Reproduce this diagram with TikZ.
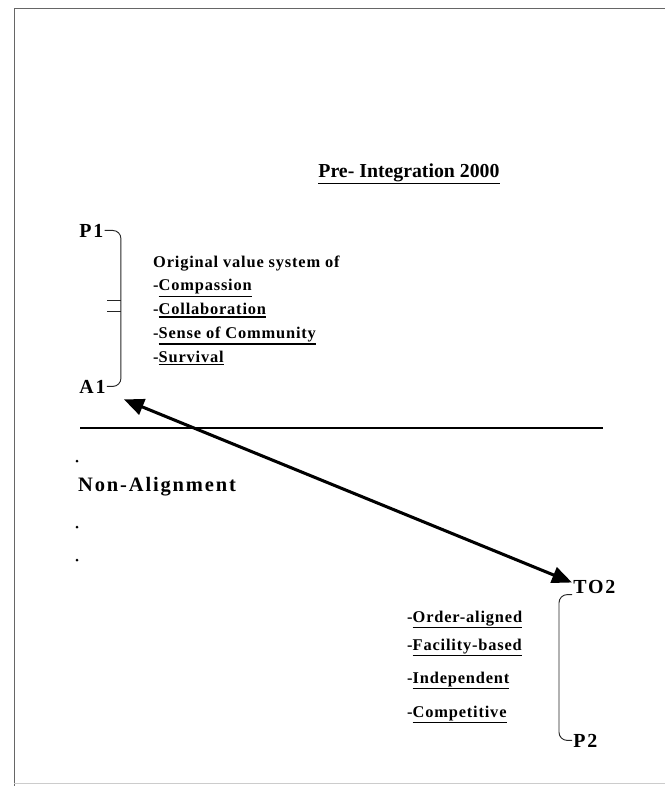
\documentclass[tikz,border=0pt]{standalone}
\usepackage{fontspec}
\setmainfont{Liberation Serif}
\newfontfamily\spacedfont[LetterSpace=5]{Liberation Serif}
\newfontfamily\widefont[LetterSpace=9]{Liberation Serif}
\usetikzlibrary{arrows.meta, positioning, calc}
\newcommand{\ruled}[1]{\leavevmode\vtop{\hbox{#1}\kern1.3pt\hrule height 1.1pt}}
\tikzset{
  heading/.style={font=\fontsize{16.9}{19}\selectfont\bfseries, inner sep=1pt},
  endlabel/.style={font=\fontsize{17}{19}\selectfont\widefont\bfseries, inner sep=1pt},
  item/.style={font=\fontsize{14}{16}\selectfont\spacedfont\bfseries, inner sep=0pt, anchor=base west},
  zone/.style={font=\fontsize{17.5}{19}\selectfont\widefont\bfseries, inner sep=0pt, anchor=base west},
  bracket/.style={draw=black!85, line width=0.8pt, rounded corners=7pt},
  divider/.style={draw=black, line width=2pt},
  pagefrm/.style={draw=black!60, line width=0.7pt},
  shiftarrow/.style={{Triangle[length=17pt, width=14pt]}-{Triangle[length=17pt, width=14pt]}, line width=2.6pt},
}
\begin{document}
\begin{tikzpicture}[x=0.03cm, y=-0.03cm]
  \useasboundingbox (0,0) rectangle (665,786);
  % scanned page edge
  \draw[pagefrm] (14,786) -- (14,8) -- (665,8);
  \draw[draw=black!20, line width=0.6pt] (14,783) -- (665,783);

  \node[heading, anchor=base] (title) at (409,177) {\ruled{Pre- Integration 2000}};

  % upper block
  \node[endlabel, anchor=base west] (P1) at (78,237) {P1};
  \node[endlabel, anchor=base west] (A1) at (78,393) {A1};
  \draw[bracket] (P1.east) -| ([shift={(14,0)}]A1.east) -- (A1.east);
  \draw[bracket] (107,300) -- (121,300);
  \draw[bracket] (107,311) -- (121,311);

  \node[item] (val0) at (153,267) {Original value system of};
  \foreach \txt [count=\i] in {{-\ruled{Compassion}}, {-\ruled{Collaboration}},
      {-\ruled{Sense of Community}}, {-\ruled{Survival}}}
    \node[item] (val\i) at (153,267+23.8*\i) {\txt};

  \draw[divider] (80,428) -- (603,428);

  \node[zone] (nonal) at (78,491) {Non-Alignment};
  \foreach \yy in {461,527,560}
    \fill (77,\yy) circle (1.5);

  % lower block
  \node[endlabel, anchor=base west] (TO2) at (572,593) {TO2};
  \node[endlabel, anchor=base west] (P2) at (572,747) {P2};
  \draw[bracket] (TO2.south west) -| ([shift={(-13,0)}]P2.west) -- (P2.west);

  \node[item] (ord) at (407,622) {-\ruled{Order-aligned}};
  \node[item] (fac) at (407,650) {-\ruled{Facility-based}};
  \node[item] (ind) at (407,683) {-\ruled{Independent}};
  \node[item] (com) at (407,717) {-\ruled{Competitive}};

  \coordinate (tipA) at ([shift={(17,5)}]A1.south east);
  \coordinate (tipT) at ([shift={(0,-4)}]TO2.west);
  \draw[shiftarrow] (tipA) -- (tipT);
\end{tikzpicture}
\end{document}
